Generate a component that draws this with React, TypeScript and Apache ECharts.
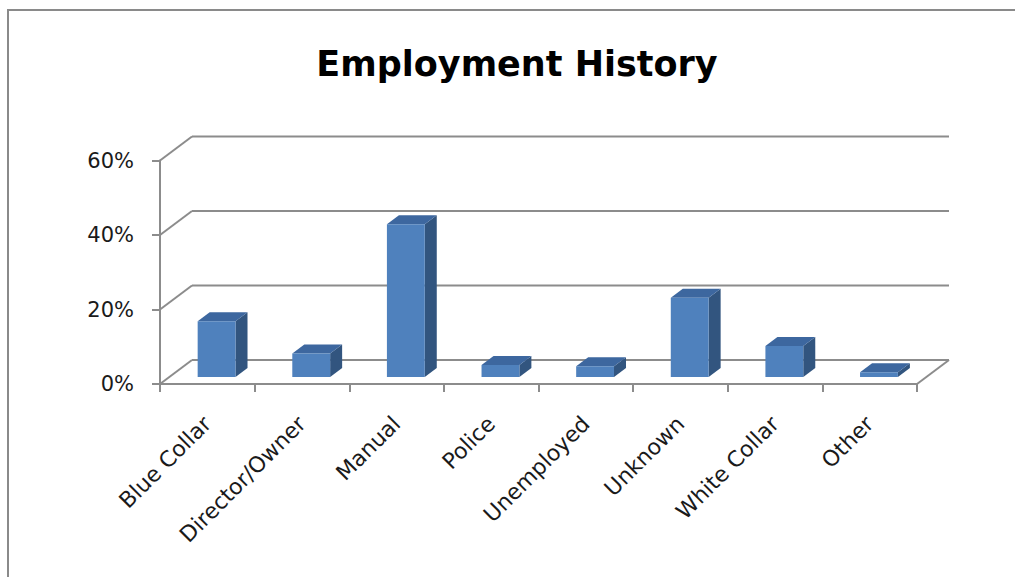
import React, { useEffect, useRef } from 'react';
import * as echarts from 'echarts';

const titleText = 'Employment History';
const categories = ['Blue Collar', 'Director/Owner', 'Manual', 'Police', 'Unemployed', 'Unknown', 'White Collar', 'Other'];
const shares = [0.15, 0.063, 0.41, 0.032, 0.029, 0.213, 0.083, 0.013];
const yTicks = [0, 0.2, 0.4, 0.6];

const DX = 32;
const DY = 24;
const BAR_FRONT = 0.29;
const BAR_BACK = 0.665;
const BAR_WIDTH_RATIO = 0.4;

export default function App() {
  const ref = useRef<HTMLDivElement>(null);
  useEffect(() => {
    document.body.style.margin = '0';
    const chart = echarts.init(ref.current as HTMLDivElement, null, { renderer: 'svg' });
    const axisColor = '#8C8C8C';
    const font = 'DejaVu Sans';
    const frontC = '#4F81BD';
    const topC = '#3D679F';
    const sideC = '#32557F';

    const walls = {
      type: 'custom',
      z: 1,
      clip: false,
      silent: true,
      data: yTicks.map((v) => [0, v]),
      encode: { x: 0, y: 1 },
      renderItem: (params: any, api: any) => {
        const v = api.value(1);
        const y = api.coord([0, v])[1];
        const cs = params.coordSys;
        const x0 = cs.x;
        const x1 = cs.x + cs.width;
        const style = { stroke: axisColor, lineWidth: 2, fill: 'none' };
        const children: any[] = [
          { type: 'line', shape: { x1: x0, y1: y, x2: x0 + DX, y2: y - DY }, style },
          { type: 'line', shape: { x1: x0 + DX, y1: y - DY, x2: x1 + DX, y2: y - DY }, style },
        ];
        if (v === 0) {
          children.push({ type: 'line', shape: { x1: x1, y1: y, x2: x1 + DX, y2: y - DY }, style });
        }
        return { type: 'group', children };
      },
    };

    const bars = {
      type: 'custom',
      name: 'Employment',
      z: 3,
      clip: false,
      data: shares.map((v, i) => [i, v]),
      encode: { x: 0, y: 1 },
      renderItem: (params: any, api: any) => {
        const i = api.value(0);
        const v = api.value(1);
        const base = api.coord([i, 0]);
        const top = api.coord([i, v]);
        const band = api.size([1, 0])[0];
        const w = band * BAR_WIDTH_RATIO;
        const fx = DX * BAR_FRONT;
        const fy = DY * BAR_FRONT;
        const sx = DX * (BAR_BACK - BAR_FRONT);
        const sy = DY * (BAR_BACK - BAR_FRONT);
        const L = base[0] - w / 2 + fx;
        const R = L + w;
        const B = base[1] - fy;
        const T = top[1] - fy;
        return {
          type: 'group',
          children: [
            { type: 'polygon', shape: { points: [[R, T], [R + sx, T - sy], [R + sx, B - sy], [R, B]] }, style: { fill: sideC } },
            { type: 'polygon', shape: { points: [[L, T], [R, T], [R + sx, T - sy], [L + sx, T - sy]] }, style: { fill: topC } },
            { type: 'rect', shape: { x: L, y: T, width: w, height: B - T }, style: { fill: frontC } },
          ],
        };
      },
    };

    chart.setOption({
      animation: false,
      backgroundColor: '#ffffff',
      title: {
        text: titleText,
        left: 517,
        top: 46,
        padding: 0,
        textAlign: 'center',
        textStyle: { fontFamily: font, fontWeight: 'bold', fontSize: 35, color: '#000000' },
      },
      grid: { left: 160, top: 160.5, width: 757, height: 223.5, containLabel: false, outerBoundsMode: 'none' },
      xAxis: {
        type: 'category',
        data: categories,
        boundaryGap: true,
        axisLine: { show: true, lineStyle: { color: axisColor, width: 2 } },
        axisTick: { show: true, length: 8, interval: 0, lineStyle: { color: axisColor, width: 2 } },
        axisLabel: {
          interval: 0,
          rotate: 45,
          margin: 36,
          fontFamily: font,
          fontSize: 22,
          color: '#1a1a1a',
          hideOverlap: false,
        },
        splitLine: { show: false },
      },
      yAxis: {
        type: 'value',
        min: 0,
        max: 0.6,
        interval: 0.2,
        axisLine: { show: true, lineStyle: { color: axisColor, width: 2 } },
        axisTick: { show: true, length: 8, lineStyle: { color: axisColor, width: 2 } },
        axisLabel: {
          margin: 26,
          formatter: (v: number) => Math.round(v * 100) + '%',
          fontFamily: font,
          fontSize: 21,
          color: '#1a1a1a',
        },
        splitLine: { show: false },
      },
      graphic: [
        {
          type: 'rect',
          silent: true,
          shape: { x: 8, y: 10, width: 1100, height: 700 },
          style: { fill: 'none', stroke: '#8A8A8A', lineWidth: 2 },
        },
      ],
      series: [walls, bars],
    });
    return () => chart.dispose();
  }, []);
  return <div ref={ref} style={{ width: 1015, height: 577 }} />;
}
